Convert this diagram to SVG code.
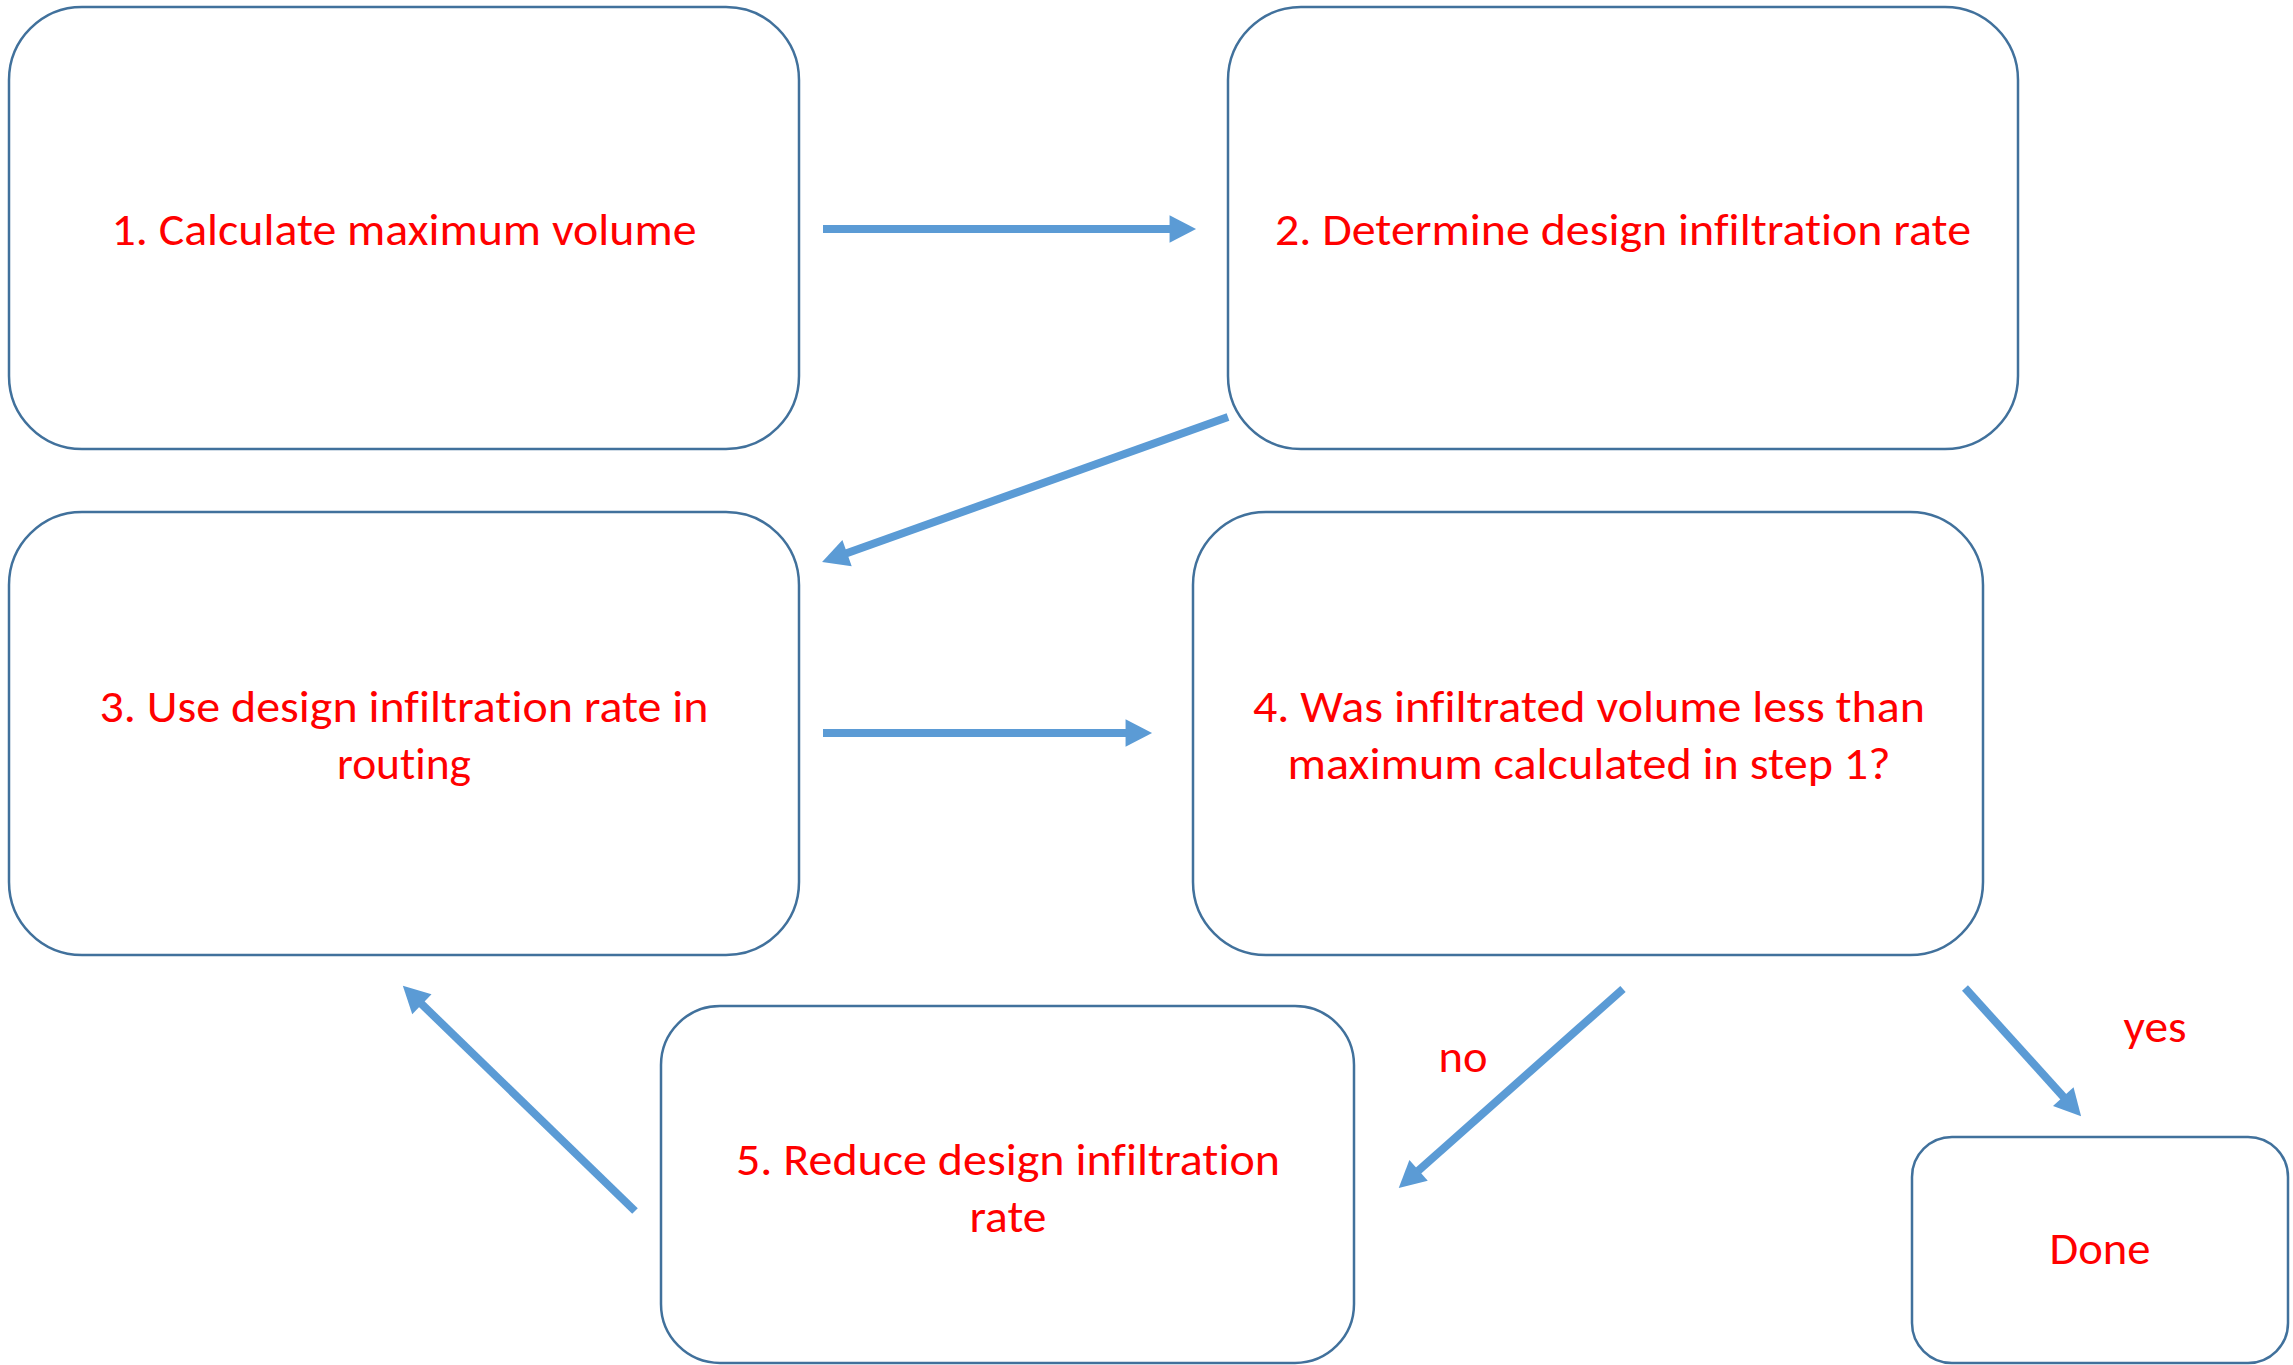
<svg xmlns="http://www.w3.org/2000/svg" width="2293" height="1365" viewBox="0 0 2293 1365">
<style>
.box{fill:#FFFFFF;stroke:#41719C;stroke-width:2.5}
.t{font-family:"Carlito","Lato","Liberation Sans",sans-serif;font-size:45px;fill:#FF0000;text-anchor:middle;font-variant-ligatures:none;font-feature-settings:"liga" 0,"dlig" 0}
.c{stroke:#5B9BD5;stroke-width:8;fill:none;marker-end:url(#ah)}
</style>
<defs>
<marker id="ah" markerUnits="userSpaceOnUse" markerWidth="30" markerHeight="30" refX="3" refY="0" viewBox="0 -13 24 26" orient="auto" overflow="visible">
<path d="M0,-12 L23,0 L0,12 z" fill="#5B9BD5"/>
</marker>
</defs>
<rect width="2293" height="1365" fill="#FFFFFF"/>
<g id="n1">
<rect class="box" x="9" y="7" width="790" height="442" rx="73" ry="73"/>
<text class="t" x="404" y="245" textLength="585" lengthAdjust="spacingAndGlyphs">1. Calculate maximum volume</text>
</g>
<g id="n2">
<rect class="box" x="1228" y="7" width="790" height="442" rx="73" ry="73"/>
<text class="t" x="1623" y="245" textLength="696" lengthAdjust="spacingAndGlyphs">2. Determine design infiltration rate</text>
</g>
<g id="n3">
<rect class="box" x="9" y="512" width="790" height="443" rx="73" ry="73"/>
<text class="t" x="404" y="722" textLength="609" lengthAdjust="spacingAndGlyphs">3. Use design infiltration rate in</text>
<text class="t" x="404" y="779" textLength="134" lengthAdjust="spacingAndGlyphs">routing</text>
</g>
<g id="n4">
<rect class="box" x="1193" y="512" width="790" height="443" rx="73" ry="73"/>
<text class="t" x="1589" y="722" textLength="672" lengthAdjust="spacingAndGlyphs">4. Was infiltrated volume less than</text>
<text class="t" x="1589" y="779" textLength="603" lengthAdjust="spacingAndGlyphs">maximum calculated in step 1?</text>
</g>
<g id="n5">
<rect class="box" x="661" y="1006" width="693" height="357" rx="59" ry="59"/>
<text class="t" x="1008" y="1175" textLength="544" lengthAdjust="spacingAndGlyphs">5. Reduce design infiltration</text>
<text class="t" x="1008" y="1232" textLength="77" lengthAdjust="spacingAndGlyphs">rate</text>
</g>
<g id="n6">
<rect class="box" x="1912" y="1137" width="376" height="226" rx="40" ry="40"/>
<text class="t" x="2100" y="1264" textLength="101" lengthAdjust="spacingAndGlyphs">Done</text>
</g>
<g id="connectors">
<line class="c" x1="823" y1="229" x2="1173" y2="229"/>
<line class="c" x1="1228" y1="417" x2="843.8" y2="554.3"/>
<line class="c" x1="823" y1="733" x2="1129" y2="733"/>
<line class="c" x1="1623" y1="989" x2="1416" y2="1172.7"/>
<line class="c" x1="1965" y1="988" x2="2065.6" y2="1099.2"/>
<line class="c" x1="635" y1="1211" x2="419.4" y2="1001.9"/>
<text class="t" x="1463" y="1072" textLength="49" lengthAdjust="spacingAndGlyphs">no</text>
<text class="t" x="2155" y="1042" textLength="63" lengthAdjust="spacingAndGlyphs">yes</text>
</g>
</svg>
